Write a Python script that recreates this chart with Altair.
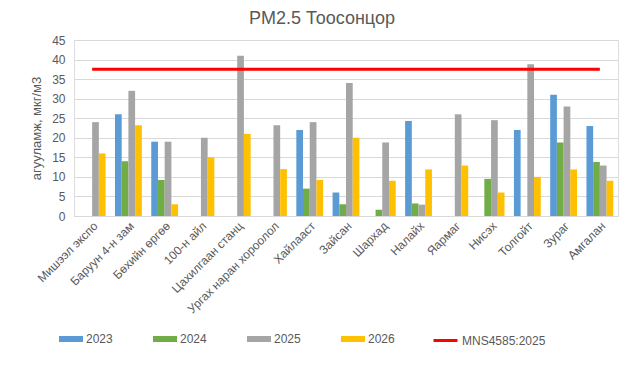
import altair as alt
import pandas as pd

stations = ["Мишээл экспо", "Баруун 4-н зам", "Бөхийн өргөө", "100-н айл",
            "Цахилгаан станц", "Ургах наран хороолол", "Хайлааст", "Зайсан",
            "Шархад", "Налайх", "Яармаг", "Нисэх", "Толгойт", "Зураг", "Амгалан"]
years = ["2023", "2024", "2025", "2026"]
v2023 = [None, 26, 19, None, None, None, 22, 6, None, 24.3, None, None, 22, 31, 23]
v2024 = [None, 14, 9.2, None, None, None, 7, 3, 1.6, 3.2, None, 9.5, None, 18.8, 13.8]
v2025 = [24, 32, 19, 20, 41, 23.2, 24, 34, 18.8, 2.9, 26, 24.5, 38.8, 28, 12.9]
v2026 = [16, 23.2, 3, 15, 21, 12, 9.2, 20, 9, 11.9, 12.9, 6, 10, 11.9, 9]
standard_name = "MNS4585:2025"
standard_value = 37.5
y_ticks = [0, 5, 10, 15, 20, 25, 30, 35, 40, 45]

colors = ["#5B9BD5", "#70AD47", "#A5A5A5", "#FFC000"]
font = "Liberation Sans"
gray = "#595959"

rows = []
for yr, vals in zip(years, [v2023, v2024, v2025, v2026]):
    for st, v in zip(stations, vals):
        if v is not None:
            rows.append({"station": st, "year": yr, "value": v})
df = pd.DataFrame(rows)
df_line = pd.DataFrame({"station": stations, "value": [standard_value] * len(stations),
                        "name": [standard_name] * len(stations)})

x_enc = alt.X("station:N", sort=stations,
              scale=alt.Scale(paddingInner=0.26, paddingOuter=0.13),
              axis=alt.Axis(title=None, labelAngle=-45, labelAlign="right", labelBaseline="top",
                            ticks=False, domainColor="#d9d9d9", labelFontSize=12,
                            labelColor=gray, labelFont=font, labelPadding=4, labelLimit=300))
y_enc = alt.Y("value:Q", scale=alt.Scale(domain=[0, 45], nice=False),
              axis=alt.Axis(title="агууламж, мкг/м3", values=y_ticks, labelOverlap=False,
                            grid=True, gridColor="#d9d9d9", domain=False, ticks=False,
                            labelFontSize=12, labelColor=gray, labelFont=font, labelPadding=9,
                            titleFontSize=13, titleColor=gray, titleFont=font,
                            titleFontWeight="normal", titlePadding=8))

bars = alt.Chart(df).mark_bar().encode(
    x=x_enc,
    xOffset=alt.XOffset("year:N", sort=years, scale=alt.Scale(paddingInner=0, paddingOuter=0)),
    y=y_enc,
    color=alt.Color("year:N", scale=alt.Scale(domain=years, range=colors),
                    legend=alt.Legend(title=None, orient="none", direction="horizontal",
                                      legendX=-15, legendY=287, padding=0,
                                      symbolType="M-1,-0.25H1V0.25H-1Z", symbolSize=576,
                                      symbolStrokeWidth=0, symbolOpacity=1,
                                      labelFontSize=12, labelColor=gray, labelFont=font,
                                      labelOffset=3, columnPadding=40)),
)

line = alt.Chart(df_line).mark_line(strokeWidth=3).encode(
    x=x_enc,
    y=y_enc,
    stroke=alt.Stroke("name:N", scale=alt.Scale(domain=[standard_name], range=["#FF0000"]),
                      legend=alt.Legend(title=None, orient="none", direction="horizontal",
                                        legendX=358, legendY=287, padding=0,
                                        symbolType="stroke", symbolSize=576,
                                        symbolStrokeWidth=3,
                                        labelFontSize=12, labelColor=gray, labelFont=font,
                                        labelOffset=3)),
)

chart = alt.layer(bars, line).properties(
    width=544, height=176,
    autosize=alt.AutoSizeParams(type="none"),
    padding={"left": 66, "top": 32, "right": 16, "bottom": 143},
    title=alt.TitleParams("PM2.5 Тоосонцор", fontSize=18, color=gray, font=font,
                          fontWeight="normal", anchor="middle", dx=-24, offset=6),
).configure_view(stroke=None).configure(background="white")

chart.save("out.html", embed_options={"renderer": "svg", "actions": False})
